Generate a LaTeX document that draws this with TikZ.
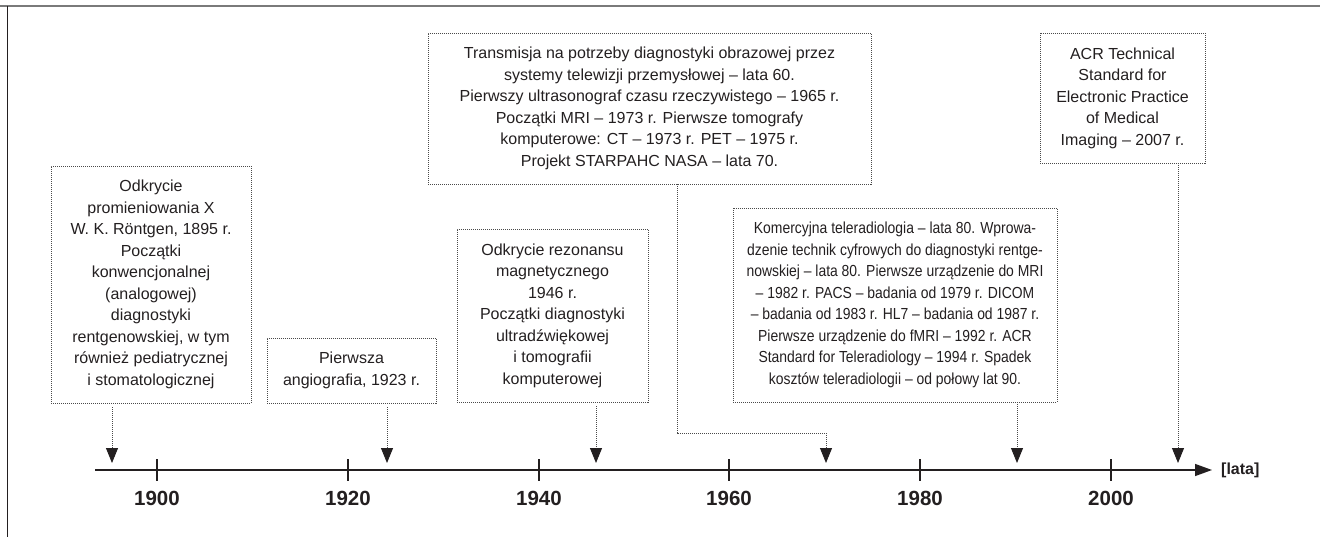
\documentclass[tikz,border=0pt]{standalone}
\usepackage{fontspec}
\setmainfont{Liberation Sans}
\newfontfamily\narrowsans[FakeStretch=0.87]{Liberation Sans}
\usetikzlibrary{arrows.meta}
\definecolor{ink}{HTML}{231F20}
\definecolor{dotc}{HTML}{4A4A4A}
\definecolor{framegray}{HTML}{7A7A7A}
\tikzset{
  evbox/.style={draw=dotc, line width=0.9pt, dash pattern=on 1pt off 1pt, align=center,
    inner sep=0pt, text=ink, font=\fontsize{16}{21.5}\selectfont},
  conn/.style={draw=dotc, line width=0.9pt, dash pattern=on 1pt off 1pt,
    -{Triangle[width=12pt,length=15pt,color=ink]}},
  axisline/.style={draw=ink, line width=1.4pt},
  year/.style={text=ink, font=\bfseries\fontsize{20.5}{24}\selectfont, inner sep=0pt},
}
\begin{document}
\begin{tikzpicture}[x=1pt,y=-1pt]
\useasboundingbox (0,0) rectangle (1320,537);
% frame
\draw[framegray, line width=2pt] (0,6.5) -- (1320,6.5);
\draw[ink, line width=1.3pt] (7.5,6) -- (7.5,537);

% event boxes
\node[evbox, minimum width=200pt, minimum height=237pt] (b1) at (151,284.5)
  {Odkrycie\\promieniowania X\\W. K. Röntgen, 1895 r.\\Początki\\konwencjonalnej\\(analogowej)\\diagnostyki\\rentgenowskiej, w tym\\również pediatrycznej\\i stomatologicznej};
\node[evbox, minimum width=169pt, minimum height=65pt] (b2) at (351.5,370.5)
  {Pierwsza\\angiografia, 1923 r.};
\node[evbox, minimum width=191pt, minimum height=173pt] (b3) at (552.5,315.5)
  {Odkrycie rezonansu\\magnetycznego\\1946 r.\\Początki diagnostyki\\ultradźwiękowej\\i tomografii\\komputerowej};
\node[evbox, minimum width=443pt, minimum height=151pt] (b4) at (649.5,108.5)
  {Transmisja na potrzeby diagnostyki obrazowej przez\\systemy telewizji przemysłowej – lata 60.\\Pierwszy ultrasonograf czasu rzeczywistego – 1965 r.\\Początki MRI – 1973 r. Pierwsze tomografy\\komputerowe: CT – 1973 r. PET – 1975 r.\\Projekt STARPAHC NASA – lata 70.};
\node[evbox, font=\narrowsans\fontsize{16}{21.5}\selectfont, minimum width=324pt, minimum height=194pt] (b5) at (895,305)
  {Komercyjna teleradiologia – lata 80. Wprowa-\\dzenie technik cyfrowych do diagnostyki rentge-\\nowskiej – lata 80. Pierwsze urządzenie do MRI\\– 1982 r. PACS – badania od 1979 r. DICOM\\– badania od 1983 r. HL7 – badania od 1987 r.\\Pierwsze urządzenie do fMRI – 1992 r. ACR\\Standard for Teleradiology – 1994 r. Spadek\\kosztów teleradiologii – od połowy lat 90.};
\node[evbox, minimum width=165pt, minimum height=130pt] (b6) at (1122.5,98)
  {ACR Technical\\Standard for\\Electronic Practice\\of Medical\\Imaging – 2007 r.};

% axis
\coordinate (axstart) at (95,470);
\coordinate (axend) at (1212,470);
\draw[axisline, -{Triangle[width=12pt,length=17pt]}] (axstart) -- (axend);
\node[text=ink, font=\bfseries\fontsize{16}{19}\selectfont, anchor=west, inner sep=0pt] (lata) at (1221,470) {[lata]};
\foreach \x/\yr in {157/1900, 348/1920, 539/1940, 729/1960, 920/1980, 1111/2000}{
  \draw[axisline] (\x,459) -- (\x,481);
  \node[year] (y\yr) at (\x,498.5) {\yr};
}

% arrow targets
\coordinate (t1) at (112,463);
\coordinate (t2) at (387,463);
\coordinate (t3) at (596,463);
\coordinate (t4) at (826,463);
\coordinate (t5) at (1017,463);
\coordinate (t6) at (1178,463);
\coordinate (k4a) at (677,433);
\coordinate (k4b) at (826,433);

% connectors
\draw[conn, shorten <=4pt] (b1.south -| t1) -- (t1);
\draw[conn, shorten <=4pt] (b2.south -| t2) -- (t2);
\draw[conn, shorten <=4pt] (b3.south -| t3) -- (t3);
\draw[conn] (b4.south -| k4a) -- (k4a) -- (k4b) -- (t4);
\draw[conn] (b5.south -| t5) -- (t5);
\draw[conn] (b6.south -| t6) -- (t6);
\end{tikzpicture}
\end{document}
